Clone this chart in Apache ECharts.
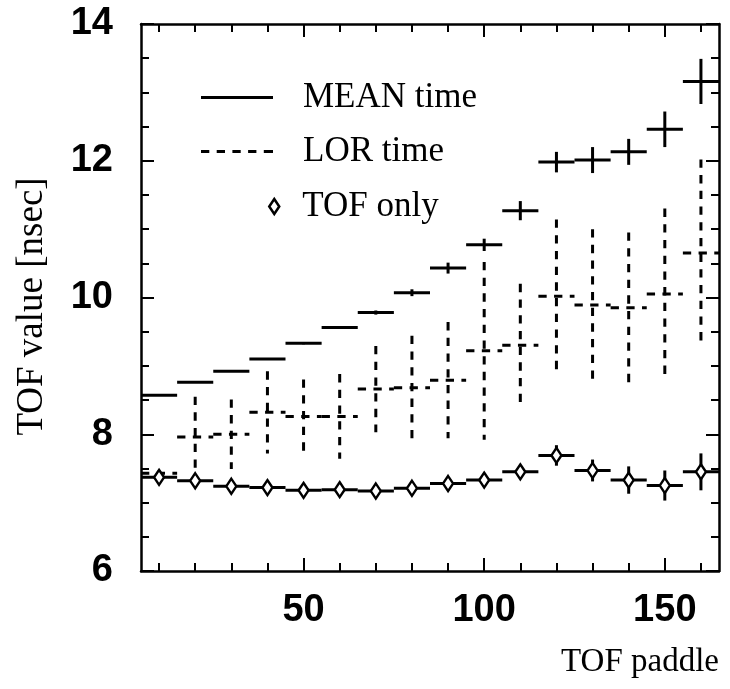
<!DOCTYPE html>
<html>
<head>
<meta charset="utf-8">
<script src="https://cdn.jsdelivr.net/npm/echarts@6/dist/echarts.min.js"></script>
<style>
html,body{margin:0;padding:0;background:#fff;}
#c{width:730px;height:689px;}
</style>
</head>
<body>
<div id="c"></div>
<script>
// ---- data ----
const paddle = [10, 20, 30, 40, 50, 60, 70, 80, 90, 100, 110, 120, 130, 140, 150, 160];
const binHalfWidth = 5;
const meanTime = [8.57, 8.76, 8.92, 9.10, 9.33, 9.56, 9.78, 10.07, 10.43, 10.77, 11.27, 11.98, 12.01, 12.13, 12.46, 13.16];
const meanErr  = [0.01, 0.01, 0.01, 0.01, 0.015, 0.015, 0.03, 0.05, 0.08, 0.09, 0.14, 0.15, 0.19, 0.19, 0.26, 0.33];
const lorTime  = [7.43, 7.96, 8.00, 8.32, 8.26, 8.26, 8.66, 8.68, 8.79, 9.22, 9.30, 10.02, 9.89, 9.85, 10.05, 10.65];
const lorErr   = [0.04, 0.59, 0.51, 0.60, 0.54, 0.62, 0.63, 0.76, 0.85, 1.30, 0.90, 1.12, 1.11, 1.10, 1.25, 1.37];
const tofOnly  = [7.37, 7.32, 7.24, 7.22, 7.18, 7.19, 7.17, 7.21, 7.28, 7.33, 7.45, 7.69, 7.47, 7.33, 7.25, 7.45];
const tofErr   = [0.03, 0.03, 0.03, 0.03, 0.03, 0.03, 0.03, 0.03, 0.04, 0.05, 0.08, 0.15, 0.16, 0.20, 0.22, 0.27];
const xMajorTicks = [50, 100, 150];
const xMinorTicks = [10, 20, 30, 40, 60, 70, 80, 90, 110, 120, 130, 140, 160];
const xRange = [5, 165];
const yRange = [6, 14];
const yStep = 2;
const seriesNames = ['MEAN time', 'LOR time', 'TOF only'];
const xTitle = 'TOF paddle';
const yTitle = 'TOF value [nsec]';

// ---- build ----
const toRows = (ys, es) => paddle.map((x, i) => [x, ys[i], es[i]]);

function errRender(dashed) {
  return function (params, api) {
    const x = api.value(0), y = api.value(1), e = api.value(2);
    const l = api.coord([x - binHalfWidth, y]);
    const r = api.coord([x + binHalfWidth, y]);
    const t = api.coord([x, y + e]);
    const b = api.coord([x, y - e]);
    const style = { stroke: '#000', lineWidth: 3, fill: null };
    if (dashed) style.lineDash = [8.3, 7.4];
    return {
      type: 'group',
      children: [
        { type: 'line', shape: { x1: l[0], y1: l[1], x2: r[0], y2: r[1] }, style: style },
        { type: 'line', shape: { x1: t[0], y1: t[1], x2: b[0], y2: b[1] }, style: style }
      ]
    };
  };
}

const tickFont = { fontFamily: 'Liberation Sans', fontWeight: 'bold', fontSize: 38, color: '#000' };
const serifFont = { fontFamily: 'Liberation Serif', fontSize: 35, color: '#000', fontWeight: 'normal' };

function xAxisDef(position, ticks, len, labels, line) {
  return {
    type: 'value', min: xRange[0], max: xRange[1], position: position,
    axisLine: { show: line, onZero: false, lineStyle: { color: '#000', width: 2.5 } },
    axisTick: { show: true, inside: true, length: len, customValues: ticks, lineStyle: { color: '#000', width: 2 } },
    axisLabel: labels ? Object.assign({ show: true, customValues: ticks, margin: 21 }, tickFont) : { show: false },
    splitLine: { show: false }
  };
}
function yAxisDef(position, labels) {
  return {
    type: 'value', min: yRange[0], max: yRange[1], interval: yStep, position: position,
    axisLine: { show: true, onZero: false, lineStyle: { color: '#000', width: 2.5 } },
    axisTick: { show: true, inside: true, length: 13, lineStyle: { color: '#000', width: 2 } },
    minorTick: { show: true, splitNumber: 4, length: 8, lineStyle: { color: '#000', width: 2 } },
    axisLabel: labels ? Object.assign({ show: true, margin: 28 }, tickFont) : { show: false },
    splitLine: { show: false }, minorSplitLine: { show: false }
  };
}

const yMain = yAxisDef('left', true);
yMain.name = yTitle;
yMain.nameLocation = 'middle';
yMain.nameRotate = 90;
yMain.nameGap = 90;
yMain.nameMoveOverlap = false;
yMain.nameTextStyle = Object.assign({}, serifFont, { fontSize: 37, padding: [0, 18, 0, 0] });

const option = {
  animation: false,
  backgroundColor: '#fff',
  grid: { left: 141, right: 11, top: 24, bottom: 118, containLabel: false, outerBoundsMode: 'none' },
  title: { text: xTitle, right: 6, top: 641, textStyle: Object.assign({}, serifFont, { fontSize: 33 }) },
  xAxis: [
    xAxisDef('bottom', xMajorTicks, 13, true, true),
    xAxisDef('bottom', xMinorTicks, 8, false, false),
    xAxisDef('top', xMajorTicks, 13, false, true),
    xAxisDef('top', xMinorTicks, 8, false, false)
  ],
  yAxis: [yMain, yAxisDef('right', false)],
  legend: [
    {
      selectedMode: false, orient: 'vertical', left: 196, top: 75,
      itemWidth: 72, itemHeight: 3,
      data: [{ name: seriesNames[0], icon: 'path://M0,0H72V3H0Z', itemStyle: { color: '#000', borderWidth: 0 } }],
      textStyle: Object.assign({ padding: [0, 0, 0, 25] }, serifFont)
    },
    {
      selectedMode: false, orient: 'vertical', left: 196, top: 129,
      itemWidth: 72, itemHeight: 3,
      data: [{ name: seriesNames[1], icon: 'path://M0,0H8.3V3H0Z M15.7,0H24V3H15.7Z M31.4,0H39.7V3H31.4Z M47.1,0H55.4V3H47.1Z M62.8,0H72V3H62.8Z', itemStyle: { color: '#000', borderWidth: 0 } }],
      textStyle: Object.assign({ padding: [0, 0, 0, 25] }, serifFont)
    },
    {
      selectedMode: false, orient: 'vertical', left: 263, top: 184,
      itemWidth: 10, itemHeight: 15,
      data: [{ name: seriesNames[2], icon: 'diamond', itemStyle: { color: '#fff', borderColor: '#000', borderWidth: 2.5 } }],
      textStyle: Object.assign({ padding: [0, 0, 0, 18] }, serifFont)
    }
  ],
  series: [
    { type: 'custom', name: seriesNames[0], renderItem: errRender(false), data: toRows(meanTime, meanErr),
      encode: { x: 0, y: 1 }, itemStyle: { color: '#000' }, clip: true, z: 3 },
    { type: 'custom', name: seriesNames[1], renderItem: errRender(true), data: toRows(lorTime, lorErr),
      encode: { x: 0, y: 1 }, itemStyle: { color: '#000' }, clip: true, z: 2 },
    { type: 'custom', name: seriesNames[2], renderItem: errRender(false), data: toRows(tofOnly, tofErr),
      encode: { x: 0, y: 1 }, itemStyle: { color: '#000' }, clip: true, z: 3 },
    { type: 'scatter', name: seriesNames[2], symbol: 'diamond', symbolSize: [10, 15],
      data: paddle.map((x, i) => [x, tofOnly[i]]),
      itemStyle: { color: '#fff', borderColor: '#000', borderWidth: 2.5, opacity: 1 }, z: 5 }
  ]
};

const chart = echarts.init(document.getElementById('c'), null, { renderer: 'canvas' });
chart.setOption(option);
</script>
</body>
</html>
